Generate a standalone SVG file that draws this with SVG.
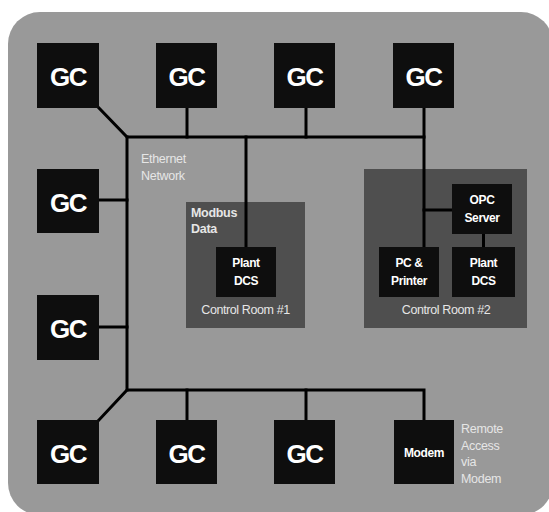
<svg xmlns="http://www.w3.org/2000/svg" width="549" height="512" viewBox="0 0 549 512">
<style>
.bg{fill:#999999}
.room{fill:#4f4f4f}
.box{fill:#0e0e0e}
.gc{font-family:"Liberation Sans",Arial,sans-serif;font-weight:bold;font-size:26px;fill:#ffffff;text-anchor:middle;letter-spacing:-1.5px}
.lbl{font-family:"Liberation Sans",Arial,sans-serif;font-weight:bold;font-size:12px;fill:#ffffff;text-anchor:middle;letter-spacing:-0.4px}
.note{font-family:"Liberation Sans",Arial,sans-serif;font-size:12.5px;fill:#e6e6e6;letter-spacing:-0.3px}
.notec{font-family:"Liberation Sans",Arial,sans-serif;font-size:12.5px;fill:#e6e6e6;text-anchor:middle;letter-spacing:-0.4px}
.noteb{font-family:"Liberation Sans",Arial,sans-serif;font-weight:bold;font-size:12.5px;fill:#e6e6e6;letter-spacing:-0.3px}
.wire{stroke:#000;stroke-width:3;fill:none;stroke-linecap:square}
</style>
<rect width="549" height="512" fill="#ffffff"/>
<rect class="bg" x="8" y="12" width="545" height="503" rx="32" ry="32"/>

<g id="control-room-1">
<rect class="room" x="186" y="202" width="119" height="126"/>
<text class="noteb" x="191" y="217">Modbus</text>
<text class="noteb" x="191" y="233">Data</text>
<text class="notec" x="245.5" y="314">Control Room #1</text>
</g>
<g id="control-room-2">
<rect class="room" x="364" y="169" width="163" height="159"/>
<text class="notec" x="446" y="314">Control Room #2</text>
</g>

<g id="connectors">
<polyline class="wire" points="99,108 127,137 424,137"/>
<line class="wire" x1="187" y1="108" x2="187" y2="137"/>
<line class="wire" x1="306" y1="108" x2="306" y2="137"/>
<line class="wire" x1="424" y1="108" x2="424" y2="247"/>
<line class="wire" x1="424" y1="210" x2="452" y2="210"/>
<line class="wire" x1="483.5" y1="234" x2="483.5" y2="247"/>
<line class="wire" x1="246" y1="137" x2="246" y2="247"/>
<line class="wire" x1="127" y1="137" x2="127" y2="390"/>
<line class="wire" x1="99" y1="200" x2="127" y2="200"/>
<line class="wire" x1="99" y1="327" x2="127" y2="327"/>
<polyline class="wire" points="99,420 127,390 424,390 424,420"/>
<line class="wire" x1="187" y1="390" x2="187" y2="420"/>
<line class="wire" x1="306" y1="390" x2="306" y2="420"/>
</g>

<g id="ethernet-label">
<text class="note" x="141" y="163">Ethernet</text>
<text class="note" x="141" y="180">Network</text>
</g>

<g id="gc-top-1"><rect class="box" x="37" y="43" width="62" height="65"/><text class="gc" x="68" y="86">GC</text></g>
<g id="gc-top-2"><rect class="box" x="156" y="43" width="61" height="65"/><text class="gc" x="186.5" y="86">GC</text></g>
<g id="gc-top-3"><rect class="box" x="274" y="43" width="61" height="65"/><text class="gc" x="304.5" y="86">GC</text></g>
<g id="gc-top-4"><rect class="box" x="393" y="43" width="61" height="65"/><text class="gc" x="423.5" y="86">GC</text></g>
<g id="gc-left-1"><rect class="box" x="37" y="169" width="62" height="64"/><text class="gc" x="68" y="212">GC</text></g>
<g id="gc-left-2"><rect class="box" x="37" y="295" width="62" height="65"/><text class="gc" x="68" y="338">GC</text></g>
<g id="gc-bottom-1"><rect class="box" x="37" y="420" width="62" height="64"/><text class="gc" x="68" y="463">GC</text></g>
<g id="gc-bottom-2"><rect class="box" x="156" y="420" width="61" height="64"/><text class="gc" x="186.5" y="463">GC</text></g>
<g id="gc-bottom-3"><rect class="box" x="274" y="420" width="61" height="64"/><text class="gc" x="304.5" y="463">GC</text></g>

<g id="modem"><rect class="box" x="394" y="420" width="60" height="64"/><text class="lbl" x="424" y="457">Modem</text></g>
<g id="remote-label">
<text class="note" x="461" y="433">Remote</text>
<text class="note" x="461" y="449.5">Access</text>
<text class="note" x="461" y="466">via</text>
<text class="note" x="461" y="482.5">Modem</text>
</g>

<g id="plant-dcs-1"><rect class="box" x="216" y="247" width="60" height="50"/><text class="lbl" x="246" y="267">Plant</text><text class="lbl" x="246" y="285">DCS</text></g>
<g id="opc-server"><rect class="box" x="452" y="184" width="60" height="50"/><text class="lbl" x="482" y="204">OPC</text><text class="lbl" x="482" y="222">Server</text></g>
<g id="pc-printer"><rect class="box" x="379" y="247" width="60" height="50"/><text class="lbl" x="409" y="267">PC &amp;</text><text class="lbl" x="409" y="285">Printer</text></g>
<g id="plant-dcs-2"><rect class="box" x="452" y="247" width="63" height="50"/><text class="lbl" x="483.5" y="267">Plant</text><text class="lbl" x="483.5" y="285">DCS</text></g>
</svg>
